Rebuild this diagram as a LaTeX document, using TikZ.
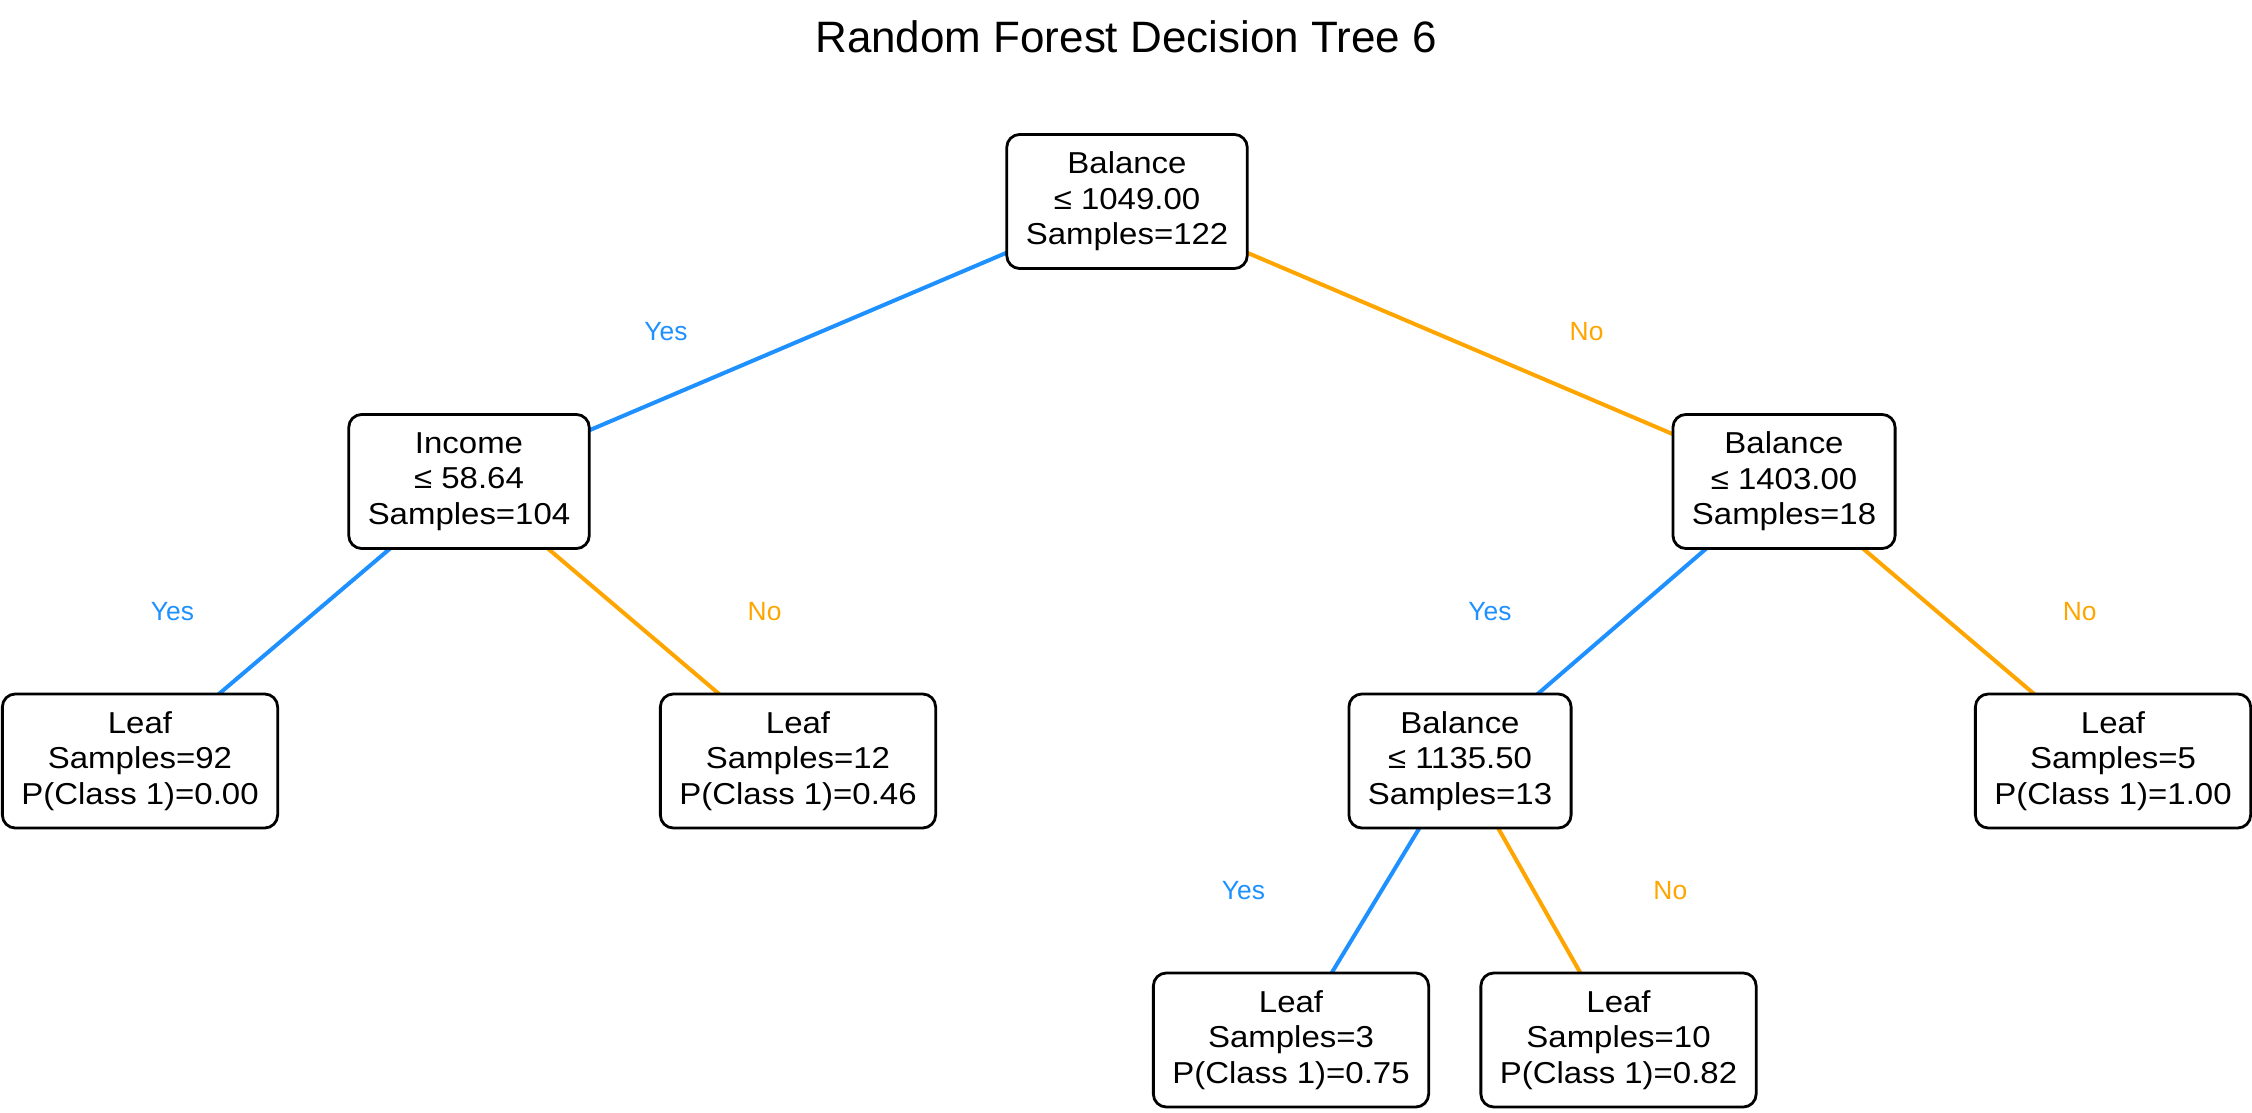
\documentclass[tikz,border=0pt]{standalone}
\usepackage{fontspec}
\setmainfont{Liberation Sans}
\newfontfamily\boxfont{Liberation Sans}[FakeStretch=1.09]
\usepackage{xcolor}
\usepackage{tikz}
\usetikzlibrary{positioning,calc,backgrounds}
\definecolor{yesBlue}{HTML}{1E90FF}
\definecolor{noOrange}{HTML}{FFA500}

\begin{document}
\begin{tikzpicture}[
    x=0.01cm,y=-0.01cm,
    split/.style={rectangle,draw=black,fill=white,line width=0.028cm,
                  rounded corners=0.13cm,align=center,inner xsep=0.19cm,
                  minimum height=1.34cm,
                  font=\boxfont\fontsize{8.6}{10.1}\selectfont},
    leaf/.style={split},
    yesarr/.style={line width=0.04cm,yesBlue},
    noarr/.style={line width=0.04cm,noOrange},
    yeslbl/.style={font=\fontsize{7.5}{8}\selectfont,text=yesBlue,
                   xshift=-1.32cm,yshift=0.1cm},
    nolbl/.style={font=\fontsize{7.5}{8}\selectfont,text=noOrange,
                  xshift=1.31cm,yshift=0.1cm}
  ]
  \useasboundingbox (0,0) rectangle (2252,1113);
  %% Title
  \node[font=\fontsize{12.5}{14}\selectfont] (title) at (1126,37)
    {Random Forest Decision Tree 6};
  %% Split nodes
  \node[split] (root)    at (1127,201.5) {Balance\\≤ 1049.00\\Samples=122};
  \node[split] (inc)     at (469,481.5)  {Income\\≤ 58.64\\Samples=104};
  \node[split] (bal1403) at (1784,481.5) {Balance\\≤ 1403.00\\Samples=18};
  \node[split] (bal1135) at (1460,761)   {Balance\\≤ 1135.50\\Samples=13};
  %% Leaf nodes
  \node[leaf] (leaf92) at (140,761)    {Leaf\\Samples=92\\P(Class 1)=0.00};
  \node[leaf] (leaf12) at (798,761)    {Leaf\\Samples=12\\P(Class 1)=0.46};
  \node[leaf] (leaf5)  at (2113,761)   {Leaf\\Samples=5\\P(Class 1)=1.00};
  \node[leaf] (leaf3)  at (1291,1040)  {Leaf\\Samples=3\\P(Class 1)=0.75};
  \node[leaf] (leaf10) at (1618.5,1040){Leaf\\Samples=10\\P(Class 1)=0.82};
  %% Branches (behind the boxes)
  \begin{scope}[on background layer]
    \draw[yesarr] (root.center) -- node[yeslbl] (y1) {Yes} (inc.center);
    \draw[noarr]  (root.center) -- node[nolbl]  (n1) {No}  (bal1403.center);
    \draw[yesarr] (inc.center) -- node[yeslbl] (y2) {Yes} (leaf92.center);
    \draw[noarr]  (inc.center) -- node[nolbl]  (n2) {No}  (leaf12.center);
    \draw[yesarr] (bal1403.center) -- node[yeslbl] (y3) {Yes} (bal1135.center);
    \draw[noarr]  (bal1403.center) -- node[nolbl]  (n3) {No}  (leaf5.center);
    \draw[yesarr] (bal1135.center) -- node[yeslbl] (y4) {Yes} (leaf3.center);
    \draw[noarr]  (bal1135.center) -- node[nolbl]  (n4) {No}  (leaf10.center);
  \end{scope}
\end{tikzpicture}
\end{document}
